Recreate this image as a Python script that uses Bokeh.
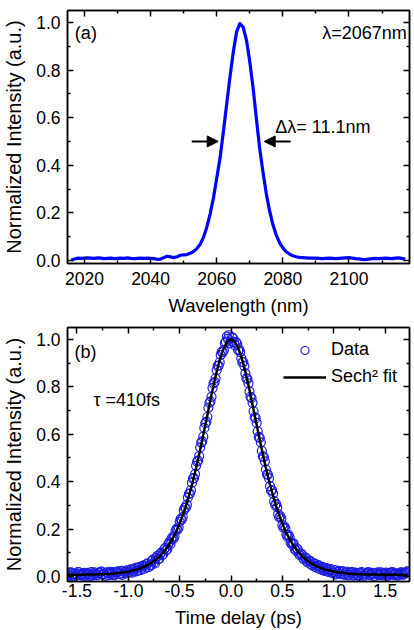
from bokeh.plotting import figure
from bokeh.layouts import column
from bokeh.models import (LinearAxis, Range1d, Label, Arrow, NormalHead, Legend,
                          LegendItem, FixedTicker, PrintfTickFormatter,
                          CustomJSTickFormatter)
from bokeh.embed import file_html
from bokeh.resources import INLINE

FONT = "Liberation Sans"

# ---------------- (a) optical spectrum ----------------
wavelength_nm = [
    2016, 2017, 2018, 2019, 2020, 2021, 2022, 2023, 2024, 2025,
    2026, 2027, 2028, 2029, 2030, 2031, 2032, 2033, 2034, 2035,
    2036, 2037, 2038, 2039, 2040, 2041, 2042, 2043, 2044, 2045,
    2046, 2047, 2048, 2049, 2050, 2051, 2052, 2053, 2054, 2055,
    2056, 2057, 2058, 2059, 2060, 2061, 2062, 2063, 2064, 2065,
    2066, 2067, 2068, 2069, 2070, 2071, 2072, 2073, 2074, 2075,
    2076, 2077, 2078, 2079, 2080, 2081, 2082, 2083, 2084, 2085,
    2086, 2087, 2088, 2089, 2090, 2091, 2092, 2093, 2094, 2095,
    2096, 2097, 2098, 2099, 2100, 2101, 2102, 2103, 2104, 2105,
    2106, 2107, 2108, 2109, 2110, 2111, 2112, 2113, 2114, 2115,
    2116, 2117,
]
spectrum = [
    0.002, 0.006, 0.010, 0.009, 0.010, 0.011, 0.010, 0.009, 0.011, 0.010,
    0.008, 0.009, 0.010, 0.008, 0.009, 0.010, 0.009, 0.011, 0.009, 0.008,
    0.009, 0.010, 0.009, 0.010, 0.009, 0.008, 0.005, 0.006, 0.012, 0.018,
    0.015, 0.012, 0.016, 0.022, 0.024, 0.025, 0.030, 0.038, 0.050, 0.068,
    0.098, 0.140, 0.195, 0.262, 0.345, 0.430, 0.540, 0.655, 0.770, 0.875,
    0.960, 0.995, 0.980, 0.925, 0.835, 0.725, 0.595, 0.470, 0.370, 0.280,
    0.208, 0.150, 0.107, 0.075, 0.053, 0.037, 0.027, 0.020, 0.016, 0.013,
    0.012, 0.011, 0.010, 0.010, 0.010, 0.009, 0.008, 0.009, 0.010, 0.009,
    0.008, 0.009, 0.010, 0.011, 0.012, 0.010, 0.008, 0.007, 0.005, 0.004,
    0.006, 0.008, 0.009, 0.008, 0.009, 0.010, 0.009, 0.008, 0.010, 0.011,
    0.009, 0.006,
]
center_nm = 2067
fwhm_nm = 11.1

spec_xticks = [2020, 2040, 2060, 2080, 2100]
spec_xminor = [2030, 2050, 2070, 2090, 2110]

# ---------------- (b) autocorrelation trace ----------------
# first scan, sampled on even hundredths of a picosecond
delay_ps = [
    -1.60, -1.58, -1.56, -1.54, -1.52, -1.50, -1.48, -1.46, -1.44, -1.42,
    -1.40, -1.38, -1.36, -1.34, -1.32, -1.30, -1.28, -1.26, -1.24, -1.22,
    -1.20, -1.18, -1.16, -1.14, -1.12, -1.10, -1.08, -1.06, -1.04, -1.02,
    -1.00, -0.98, -0.96, -0.94, -0.92, -0.90, -0.88, -0.86, -0.84, -0.82,
    -0.80, -0.78, -0.76, -0.74, -0.72, -0.70, -0.68, -0.66, -0.64, -0.62,
    -0.60, -0.58, -0.56, -0.54, -0.52, -0.50, -0.48, -0.46, -0.44, -0.42,
    -0.40, -0.38, -0.36, -0.34, -0.32, -0.30, -0.28, -0.26, -0.24, -0.22,
    -0.20, -0.18, -0.16, -0.14, -0.12, -0.10, -0.08, -0.06, -0.04, -0.02,
    0.00, 0.02, 0.04, 0.06, 0.08, 0.10, 0.12, 0.14, 0.16, 0.18,
    0.20, 0.22, 0.24, 0.26, 0.28, 0.30, 0.32, 0.34, 0.36, 0.38,
    0.40, 0.42, 0.44, 0.46, 0.48, 0.50, 0.52, 0.54, 0.56, 0.58,
    0.60, 0.62, 0.64, 0.66, 0.68, 0.70, 0.72, 0.74, 0.76, 0.78,
    0.80, 0.82, 0.84, 0.86, 0.88, 0.90, 0.92, 0.94, 0.96, 0.98,
    1.00, 1.02, 1.04, 1.06, 1.08, 1.10, 1.12, 1.14, 1.16, 1.18,
    1.20, 1.22, 1.24, 1.26, 1.28, 1.30, 1.32, 1.34, 1.36, 1.38,
    1.40, 1.42, 1.44, 1.46, 1.48, 1.50, 1.52, 1.54, 1.56, 1.58,
    1.60, 1.62, 1.64, 1.66, 1.68, 1.70, 1.72,
]
ac_data = [
    0.014, 0.004, 0.017, 0.009, 0.001, 0.012, 0.018, 0.006, 0.011, 0.002,
    0.015, 0.008, 0.019, 0.005, 0.012, 0.006, 0.016, 0.021, 0.009, 0.003,
    0.014, 0.020, 0.010, 0.005, 0.017, 0.022, 0.012, 0.007, 0.019, 0.013,
    0.018, 0.029, 0.016, 0.031, 0.022, 0.038, 0.027, 0.044, 0.033, 0.052,
    0.040, 0.047, 0.071, 0.055, 0.086, 0.074, 0.101, 0.094, 0.121, 0.116,
    0.145, 0.158, 0.160, 0.192, 0.198, 0.231, 0.240, 0.279, 0.290, 0.333,
    0.350, 0.396, 0.415, 0.467, 0.489, 0.545, 0.570, 0.627, 0.652, 0.712,
    0.738, 0.795, 0.820, 0.871, 0.890, 0.935, 0.947, 0.985, 1.012, 1.018,
    0.992, 1.006, 0.975, 0.981, 0.958, 0.921, 0.905, 0.857, 0.834, 0.780,
    0.753, 0.697, 0.668, 0.612, 0.585, 0.530, 0.504, 0.451, 0.430, 0.381,
    0.364, 0.318, 0.305, 0.263, 0.254, 0.217, 0.211, 0.177, 0.175, 0.144,
    0.140, 0.117, 0.118, 0.097, 0.095, 0.079, 0.080, 0.063, 0.066, 0.051,
    0.055, 0.041, 0.046, 0.033, 0.038, 0.026, 0.032, 0.021, 0.027, 0.016,
    0.016, 0.009, 0.019, 0.011, 0.021, 0.008, 0.016, 0.005, 0.014, 0.019,
    0.007, 0.012, 0.003, 0.015, 0.010, 0.004, 0.013, 0.018, 0.006, 0.011,
    0.002, 0.014, 0.008, 0.017, 0.005, 0.012, 0.003, 0.010, 0.016, 0.007,
    0.013, 0.004, 0.011, 0.018, 0.008, 0.015, 0.022,
]
# second scan, sampled on odd hundredths of a picosecond
delay2_ps = [
    -1.59, -1.57, -1.55, -1.53, -1.51, -1.49, -1.47, -1.45, -1.43, -1.41,
    -1.39, -1.37, -1.35, -1.33, -1.31, -1.29, -1.27, -1.25, -1.23, -1.21,
    -1.19, -1.17, -1.15, -1.13, -1.11, -1.09, -1.07, -1.05, -1.03, -1.01,
    -0.99, -0.97, -0.95, -0.93, -0.91, -0.89, -0.87, -0.85, -0.83, -0.81,
    -0.79, -0.77, -0.75, -0.73, -0.71, -0.69, -0.67, -0.65, -0.63, -0.61,
    -0.59, -0.57, -0.55, -0.53, -0.51, -0.49, -0.47, -0.45, -0.43, -0.41,
    -0.39, -0.37, -0.35, -0.33, -0.31, -0.29, -0.27, -0.25, -0.23, -0.21,
    -0.19, -0.17, -0.15, -0.13, -0.11, -0.09, -0.07, -0.05, -0.03, -0.01,
    0.01, 0.03, 0.05, 0.07, 0.09, 0.11, 0.13, 0.15, 0.17, 0.19,
    0.21, 0.23, 0.25, 0.27, 0.29, 0.31, 0.33, 0.35, 0.37, 0.39,
    0.41, 0.43, 0.45, 0.47, 0.49, 0.51, 0.53, 0.55, 0.57, 0.59,
    0.61, 0.63, 0.65, 0.67, 0.69, 0.71, 0.73, 0.75, 0.77, 0.79,
    0.81, 0.83, 0.85, 0.87, 0.89, 0.91, 0.93, 0.95, 0.97, 0.99,
    1.01, 1.03, 1.05, 1.07, 1.09, 1.11, 1.13, 1.15, 1.17, 1.19,
    1.21, 1.23, 1.25, 1.27, 1.29, 1.31, 1.33, 1.35, 1.37, 1.39,
    1.41, 1.43, 1.45, 1.47, 1.49, 1.51, 1.53, 1.55, 1.57, 1.59,
    1.61, 1.63, 1.65, 1.67, 1.69, 1.71,
]
ac_data2 = [
    0.009, 0.016, 0.003, 0.012, 0.007, 0.019, 0.010, 0.004, 0.015, 0.008,
    0.013, 0.002, 0.011, 0.017, 0.006, 0.014, 0.020, 0.008, 0.012, 0.018,
    0.006, 0.015, 0.019, 0.009, 0.018, 0.011, 0.024, 0.013, 0.021, 0.026,
    0.017, 0.030, 0.021, 0.036, 0.025, 0.041, 0.032, 0.047, 0.039, 0.056,
    0.048, 0.066, 0.060, 0.079, 0.073, 0.094, 0.090, 0.115, 0.110, 0.138,
    0.137, 0.166, 0.169, 0.201, 0.207, 0.243, 0.251, 0.291, 0.303, 0.349,
    0.364, 0.413, 0.432, 0.485, 0.508, 0.565, 0.590, 0.647, 0.673, 0.733,
    0.758, 0.815, 0.836, 0.889, 0.904, 0.948, 0.955, 0.991, 1.003, 0.984,
    1.009, 0.988, 0.989, 0.955, 0.947, 0.904, 0.888, 0.836, 0.815, 0.758,
    0.733, 0.673, 0.648, 0.589, 0.566, 0.507, 0.486, 0.431, 0.414, 0.362,
    0.350, 0.302, 0.292, 0.250, 0.244, 0.206, 0.202, 0.168, 0.167, 0.137,
    0.139, 0.110, 0.115, 0.090, 0.095, 0.072, 0.079, 0.058, 0.066, 0.047,
    0.056, 0.037, 0.048, 0.030, 0.041, 0.024, 0.035, 0.019, 0.031, 0.015,
    0.027, 0.012, 0.024, 0.010, 0.022, 0.008, 0.020, 0.006, 0.017, 0.004,
    0.016, 0.006, 0.014, 0.019, 0.003, 0.012, 0.017, 0.007, 0.015, 0.002,
    0.011, 0.018, 0.006, 0.013, 0.009, 0.016, 0.004, 0.014, 0.019, 0.008,
    0.012, 0.005, 0.016, 0.009, 0.013, 0.020,
]
# sech^2 fit evaluated on the first scan's delays
ac_fit = [
    0.007, 0.007, 0.007, 0.007, 0.007, 0.007, 0.007, 0.007, 0.007, 0.007,
    0.008, 0.008, 0.008, 0.008, 0.008, 0.009, 0.009, 0.009, 0.010, 0.010,
    0.011, 0.011, 0.012, 0.013, 0.014, 0.015, 0.016, 0.017, 0.018, 0.019,
    0.021, 0.023, 0.025, 0.027, 0.029, 0.032, 0.035, 0.039, 0.042, 0.046,
    0.051, 0.056, 0.062, 0.068, 0.075, 0.083, 0.092, 0.102, 0.112, 0.124,
    0.137, 0.151, 0.167, 0.184, 0.203, 0.224, 0.246, 0.270, 0.296, 0.325,
    0.356, 0.387, 0.422, 0.458, 0.496, 0.536, 0.577, 0.618, 0.660, 0.703,
    0.745, 0.787, 0.826, 0.863, 0.897, 0.927, 0.952, 0.973, 0.988, 0.997,
    1.000, 0.997, 0.988, 0.973, 0.952, 0.927, 0.897, 0.863, 0.826, 0.787,
    0.745, 0.703, 0.660, 0.618, 0.577, 0.536, 0.496, 0.458, 0.422, 0.387,
    0.356, 0.325, 0.296, 0.270, 0.246, 0.224, 0.203, 0.184, 0.167, 0.151,
    0.137, 0.124, 0.112, 0.102, 0.092, 0.083, 0.075, 0.068, 0.062, 0.056,
    0.051, 0.046, 0.042, 0.039, 0.035, 0.032, 0.029, 0.027, 0.025, 0.023,
    0.021, 0.019, 0.018, 0.017, 0.016, 0.015, 0.014, 0.013, 0.012, 0.011,
    0.011, 0.010, 0.010, 0.009, 0.009, 0.009, 0.008, 0.008, 0.008, 0.008,
    0.008, 0.007, 0.007, 0.007, 0.007, 0.007, 0.007, 0.007, 0.007, 0.007,
    0.007, 0.006, 0.006, 0.006, 0.006, 0.006, 0.006,
]

ac_xticks = [-1.5, -1.0, -0.5, 0.0, 0.5, 1.0, 1.5]
ac_xminor = [-1.25, -0.75, -0.25, 0.25, 0.75, 1.25]

y_ticks = [0.0, 0.2, 0.4, 0.6, 0.8, 1.0]
y_minor = [0.1, 0.3, 0.5, 0.7, 0.9]

TICK_SIZE = "17.5px"
LABEL_SIZE = "18.5px"
YLABEL_SIZE = "20px"
NOTE_SIZE = "18px"
DATA_BLUE = "#1c1ce0"


def axis_style(ax, show_labels):
    ax.axis_line_width = 1.5
    ax.axis_line_color = "black"
    ax.major_tick_in = 6
    ax.major_tick_out = 0
    ax.minor_tick_in = 3
    ax.minor_tick_out = 0
    ax.major_tick_line_width = 1.5
    ax.minor_tick_line_width = 1.5
    ax.major_tick_line_color = "black"
    ax.minor_tick_line_color = "black"
    if show_labels:
        ax.major_label_text_font = FONT
        ax.major_label_text_font_size = TICK_SIZE
        ax.major_label_text_color = "black"
        ax.axis_label_text_font = FONT
        ax.axis_label_text_font_style = "normal"
        ax.axis_label_text_color = "black"
    else:
        # mirrored axis: ticks only, no numbers
        ax.formatter = CustomJSTickFormatter(code="return ''")
        ax.major_label_standoff = 0


def make_panel(height, x_range, y_range, xticks, xminor, xfmt, xlabel,
               top_border, bottom_border, tick_standoff, label_standoff):
    p = figure(width=414, height=height, x_range=x_range, y_range=y_range,
               output_backend="svg", toolbar_location=None,
               min_border_left=66, min_border_right=5,
               min_border_top=top_border, min_border_bottom=bottom_border)
    p.grid.visible = False
    p.outline_line_color = "black"
    p.outline_line_width = 1.5
    p.background_fill_color = "white"
    p.border_fill_color = "white"

    xt = FixedTicker(ticks=xticks, minor_ticks=xminor)
    yt = FixedTicker(ticks=y_ticks, minor_ticks=y_minor)

    p.xaxis.ticker = xt
    p.yaxis.ticker = yt
    p.xaxis.formatter = PrintfTickFormatter(format=xfmt)
    p.yaxis.formatter = PrintfTickFormatter(format="%.1f")
    for ax in p.xaxis + p.yaxis:
        axis_style(ax, True)
    p.xaxis.axis_label = xlabel
    p.xaxis.axis_label_text_font_size = LABEL_SIZE
    p.xaxis.major_label_standoff = tick_standoff
    p.xaxis.axis_label_standoff = label_standoff
    p.yaxis.axis_label = "Normalized Intensity (a.u.)"
    p.yaxis.axis_label_text_font_size = YLABEL_SIZE
    p.yaxis.major_label_standoff = 7
    p.yaxis.axis_label_standoff = 8

    top = LinearAxis(ticker=xt)
    axis_style(top, False)
    p.add_layout(top, "above")
    right = LinearAxis(ticker=yt)
    axis_style(right, False)
    p.add_layout(right, "right")
    return p


def note(p, x, y, text, align="left"):
    p.add_layout(Label(x=x, y=y, text=text, text_font=FONT,
                       text_font_size=NOTE_SIZE, text_color="black",
                       text_baseline="middle", text_align=align))


# ---- panel (a)
pa = make_panel(318, Range1d(2014.87, 2118.3), Range1d(-0.0126, 1.05),
                spec_xticks, spec_xminor, "%d", "Wavelength (nm)", 10, 55, 8, 7)
pa.line(wavelength_nm, spectrum, line_color="#0000ff", line_width=3.2,
        line_join="round")

note(pa, 2017.1, 0.955, "(a)")
note(pa, 2117.5, 0.955, "λ=2067nm", align="right")
note(pa, 2077.7, 0.56, "Δλ= 11.1nm")

half_max = 0.5
left_edge = center_nm - fwhm_nm / 2
right_edge = center_nm + fwhm_nm / 2
arrow_len = 8
for x0, x1 in [(left_edge - 1.0 - arrow_len, left_edge - 1.0),
               (right_edge + 1.8 + arrow_len, right_edge + 1.8)]:
    pa.add_layout(Arrow(end=NormalHead(size=11, fill_color="black", line_color="black"),
                        x_start=x0, y_start=half_max, x_end=x1, y_end=half_max,
                        line_color="black", line_width=2))

# ---- panel (b)
pb = make_panel(312, Range1d(-1.592, 1.738), Range1d(-0.0211, 1.0506),
                ac_xticks, ac_xminor, "%.1f", "Time delay (ps)", 9, 49, 2, 7)
data_r = pb.scatter(delay_ps, ac_data, marker="circle", size=9,
                    fill_color=None, line_color=DATA_BLUE, line_width=1.2)
pb.scatter(delay2_ps, ac_data2, marker="circle", size=9,
           fill_color=None, line_color=DATA_BLUE, line_width=1.2)
fit_r = pb.line(delay_ps, ac_fit, line_color="black", line_width=2.5)

note(pb, -1.524, 0.949, "(b)")
note(pb, -1.34, 0.743, "τ =410fs")

legend = Legend(items=[LegendItem(label="Data", renderers=[data_r]),
                       LegendItem(label="Sech² fit", renderers=[fit_r])],
                location=(216, 194), border_line_color=None,
                background_fill_alpha=0, padding=0, margin=0, spacing=6,
                glyph_width=43, glyph_height=20, label_height=20,
                label_standoff=5, label_text_font=FONT, label_text_color="black",
                label_text_font_size=NOTE_SIZE, label_text_baseline="middle")
pb.add_layout(legend)

layout = column(pa, pb, spacing=0)
open("out.html", "w").write(file_html(layout, INLINE))
